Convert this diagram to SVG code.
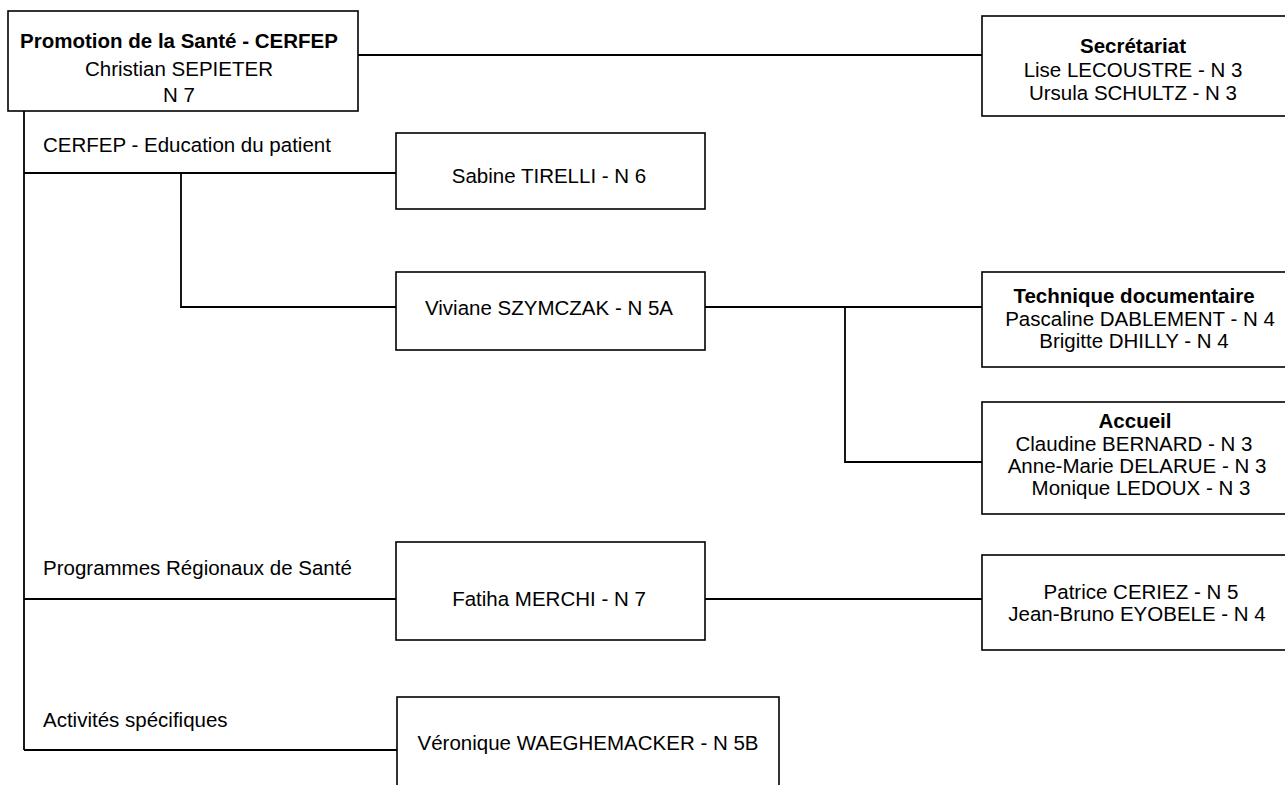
<svg xmlns="http://www.w3.org/2000/svg" width="1285" height="785" viewBox="0 0 1285 785">
<style>
.box{fill:#fff;stroke:#000;stroke-width:1.6}
.t{font-family:"Liberation Sans",Arial,sans-serif;font-size:20.5px;fill:#000}
.c{text-anchor:middle}
.b{font-weight:bold}
.ln{fill:none;stroke:#000;stroke-width:1.8}
</style>
<rect width="1285" height="785" fill="#fff"/>
<g id="connectors">
<path class="ln" d="M358 55H982"/>
<path class="ln" d="M24 111V750"/>
<path class="ln" d="M24 173H396"/>
<path class="ln" d="M181 173V307H396"/>
<path class="ln" d="M705 307H982"/>
<path class="ln" d="M845 307V462H982"/>
<path class="ln" d="M24 599H396"/>
<path class="ln" d="M705 599H982"/>
<path class="ln" d="M24 750H397"/>
</g>
<g id="n-promotion">
<rect class="box" x="8" y="11" width="350" height="100"/>
<text class="t c b" x="179" y="48">Promotion de la Santé - CERFEP</text>
<text class="t c" x="179" y="76">Christian SEPIETER</text>
<text class="t c" x="179" y="102">N 7</text>
</g>
<g id="n-secretariat">
<rect class="box" x="982" y="16" width="310" height="100"/>
<text class="t c b" x="1133" y="53">Secrétariat</text>
<text class="t c" x="1133" y="77">Lise LECOUSTRE - N 3</text>
<text class="t c" x="1133" y="100">Ursula SCHULTZ - N 3</text>
</g>
<g id="l-cerfep">
<text class="t" x="43" y="152">CERFEP - Education du patient</text>
</g>
<g id="n-sabine">
<rect class="box" x="396" y="133" width="309" height="76"/>
<text class="t c" x="549" y="183">Sabine TIRELLI - N 6</text>
</g>
<g id="n-viviane">
<rect class="box" x="396" y="272" width="309" height="78"/>
<text class="t c" x="549" y="315">Viviane SZYMCZAK - N 5A</text>
</g>
<g id="n-technique">
<rect class="box" x="982" y="272" width="310" height="95"/>
<text class="t c b" x="1134" y="303">Technique documentaire</text>
<text class="t c" x="1140" y="326">Pascaline DABLEMENT - N 4</text>
<text class="t c" x="1134" y="348">Brigitte DHILLY - N 4</text>
</g>
<g id="n-accueil">
<rect class="box" x="982" y="402" width="310" height="112"/>
<text class="t c b" x="1135" y="428">Accueil</text>
<text class="t c" x="1134" y="451">Claudine BERNARD - N 3</text>
<text class="t c" x="1137" y="473">Anne-Marie DELARUE - N 3</text>
<text class="t c" x="1141" y="495">Monique LEDOUX - N 3</text>
</g>
<g id="l-programmes">
<text class="t" x="43" y="575">Programmes Régionaux de Santé</text>
</g>
<g id="n-fatiha">
<rect class="box" x="396" y="542" width="309" height="98"/>
<text class="t c" x="549" y="606">Fatiha MERCHI - N 7</text>
</g>
<g id="n-patrice">
<rect class="box" x="982" y="555" width="310" height="95"/>
<text class="t c" x="1141" y="599">Patrice CERIEZ - N 5</text>
<text class="t c" x="1137" y="621">Jean-Bruno EYOBELE - N 4</text>
</g>
<g id="l-activites">
<text class="t" x="43" y="727">Activités spécifiques</text>
</g>
<g id="n-veronique">
<rect class="box" x="397" y="697" width="382" height="110"/>
<text class="t c" x="588" y="750">Véronique WAEGHEMACKER - N 5B</text>
</g>
</svg>
